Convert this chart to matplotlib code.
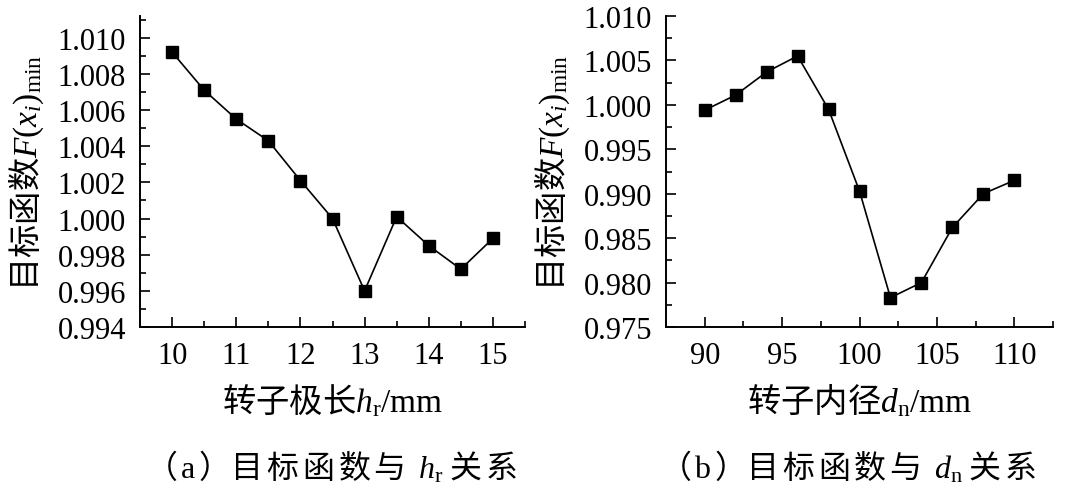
import matplotlib
matplotlib.use("Agg")
import matplotlib.pyplot as plt
from matplotlib.ticker import MultipleLocator

plt.rcParams['font.family'] = ['Liberation Serif', 'Noto Sans CJK SC']
# mathtext: Chinese through rm, latin letters through it / sf (serif)
plt.rcParams['mathtext.fontset'] = 'custom'
plt.rcParams['mathtext.rm'] = 'Noto Sans CJK SC'
plt.rcParams['mathtext.it'] = 'Liberation Serif:italic'
plt.rcParams['mathtext.sf'] = 'Liberation Serif'

# data
hr = [10, 10.5, 11, 11.5, 12, 12.5, 13, 13.5, 14, 14.5, 15]
f_hr = [1.0092, 1.0071, 1.0055, 1.0043, 1.0021, 1.0000, 0.9960, 1.0001, 0.9985, 0.9972, 0.9989]
dn = [90, 92, 94, 96, 98, 100, 102, 104, 106, 108, 110]
f_dn = [0.9994, 1.0011, 1.0037, 1.0055, 0.9995, 0.9903, 0.9783, 0.9800, 0.9862, 0.9900, 0.9915]

W, H = 1071, 502
fig = plt.figure(figsize=(W / 100, H / 100), dpi=100)

def px_axes(l, t, r, b):
    return fig.add_axes([l / W, 1 - b / H, (r - l) / W, (b - t) / H])

ax1 = px_axes(140, 17, 525, 328)
ax2 = px_axes(666, 17, 1053, 328)

ylab = r'$\mathrm{目标函数}F\mathsf{(}x_i\mathsf{)}_\mathsf{min}$'
fs = 22
for ax in (ax1, ax2):
    for s in ('top', 'right'):
        ax.spines[s].set_visible(False)
    for s in ('left', 'bottom'):
        ax.spines[s].set_linewidth(1.4)
    ax.tick_params(which='both', direction='in', width=1.2, labelsize=fs)
    ax.tick_params(which='major', length=7, pad=10)
    ax.tick_params(which='minor', length=4)
    ax.yaxis.set_major_formatter(lambda v, p: f'{v:.3f}')
    ax.set_ylabel(ylab, fontsize=24, labelpad=8)

ax1.plot(hr, f_hr, 'k-s', lw=1.2, ms=9)
ax1.set_xlim(9.5, 15.5)
ax1.set_ylim(0.994, 1.0112)
ax1.xaxis.set_major_locator(MultipleLocator(1))
ax1.xaxis.set_minor_locator(MultipleLocator(0.5))
ax1.yaxis.set_major_locator(MultipleLocator(0.002))
ax1.yaxis.set_minor_locator(MultipleLocator(0.001))
ax1.set_xlabel(r'$\mathrm{转子极长}h_\mathsf{r}\mathsf{/mm}$', fontsize=24, labelpad=8)

ax2.plot(dn, f_dn, 'k-s', lw=1.2, ms=9)
ax2.set_xlim(87.5, 112.5)
ax2.set_ylim(0.975, 1.010)
ax2.xaxis.set_major_locator(MultipleLocator(5))
ax2.xaxis.set_minor_locator(MultipleLocator(2.5))
ax2.yaxis.set_major_locator(MultipleLocator(0.005))
ax2.yaxis.set_minor_locator(MultipleLocator(0.0025))
ax2.set_xlabel(r'$\mathrm{转子内径}d_\mathsf{n}\mathsf{/mm}$', fontsize=24, labelpad=8)

cap_a = (r'$\mathrm{（}\,\mathsf{a}\,\mathrm{）目\,标\,函\,数\,与}\;\;h_\mathsf{r}'
         r'\;\mathrm{关\,系}$')
cap_b = (r'$\mathrm{（}\,\mathsf{b}\,\mathrm{）目\,标\,函\,数\,与}\;\;d_\mathsf{n}'
         r'\;\mathrm{关\,系}$')
fig.text(331 / W, 1 - 467 / H, cap_a, fontsize=23, ha='center', va='center')
fig.text(848 / W, 1 - 467 / H, cap_b, fontsize=23, ha='center', va='center')

fig.savefig('out.png', dpi=100)
